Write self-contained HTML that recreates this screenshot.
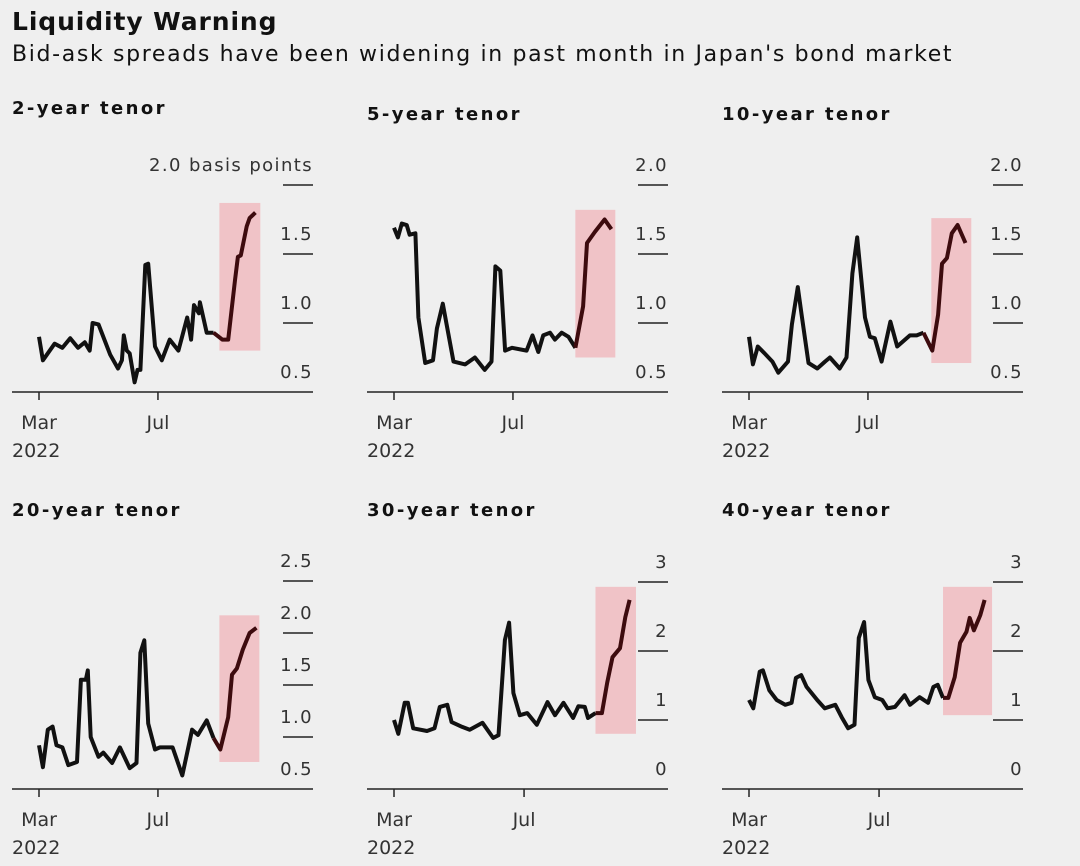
<!DOCTYPE html>
<html><head><meta charset="utf-8"><style>
body{margin:0;background:#efefef;}
svg{display:block;font-family:"DejaVu Sans","Liberation Sans",sans-serif;}
</style></head><body>
<svg id="chart" width="1080" height="866" viewBox="0 0 1080 866">
<rect width="1080" height="866" fill="#efefef"/>
<text x="12" y="30" font-size="25" font-weight="bold" fill="#111" letter-spacing="0.9">Liquidity Warning</text>
<text x="12" y="61" font-size="22" fill="#111" letter-spacing="1.65">Bid-ask spreads have been widening in past month in Japan's bond market</text>
</svg>
<script>
const titles=["2-year tenor","5-year tenor","10-year tenor","20-year tenor","30-year tenor","40-year tenor"];
const days2=[0,4,16,24,32,40,47,52,55,61,73,81,85,87,90,93,98,101,104,109,112,119,126,134,143,152,156,159,164,165,172,179,188,194,198,201,204,207,213,216,222];
const vals2=[0.90,0.73,0.85,0.82,0.89,0.82,0.86,0.80,1.0,0.99,0.77,0.67,0.73,0.91,0.80,0.78,0.57,0.66,0.66,1.42,1.43,0.83,0.73,0.88,0.80,1.04,0.88,1.13,1.07,1.15,0.93,0.93,0.88,0.88,1.12,1.31,1.48,1.49,1.70,1.76,1.80,1.73];
const days5=[0,4,8,13,16,22,25,32,40,44,50,54,61,73,83,93,100,104,109,114,121,136,142,148,153,160,165,172,179,186,194,198,206,216,223];
const vals5=[1.69,1.62,1.72,1.71,1.64,1.65,1.04,0.71,0.73,0.96,1.14,0.99,0.72,0.70,0.75,0.66,0.72,1.41,1.38,0.80,0.82,0.80,0.91,0.79,0.91,0.93,0.88,0.93,0.90,0.82,1.12,1.58,1.66,1.75,1.68];
const days10=[0,4,9,16,24,30,40,44,50,54,61,70,78,83,93,100,106,111,119,124,129,136,145,152,165,172,179,188,194,198,203,208,214,222];
const vals10=[0.90,0.70,0.83,0.78,0.72,0.64,0.72,0.99,1.26,1.06,0.71,0.67,0.72,0.75,0.67,0.75,1.36,1.62,1.04,0.90,0.89,0.72,1.01,0.83,0.91,0.91,0.93,0.80,1.06,1.43,1.47,1.65,1.71,1.58];
const days20=[0,4,9,14,18,24,30,39,43,48,50,53,61,66,75,83,93,100,104,108,112,119,124,137,147,157,163,172,179,186,194,198,203,209,216,223];
const vals20=[0.92,0.71,1.07,1.10,0.92,0.90,0.73,0.76,1.55,1.55,1.64,1.00,0.81,0.85,0.75,0.90,0.70,0.75,1.81,1.93,1.13,0.88,0.90,0.90,0.63,1.07,1.02,1.16,0.99,0.88,1.19,1.60,1.66,1.84,2.00,2.05];
const days30=[0,4,10,13,18,31,38,43,50,54,64,71,83,93,98,104,108,112,118,125,134,144,151,159,168,173,179,182,189,195,200,205,212,217,221];
const vals30=[1.0,0.80,1.25,1.25,0.88,0.84,0.88,1.19,1.22,0.97,0.90,0.86,0.96,0.74,0.78,2.16,2.41,1.39,1.07,1.10,0.93,1.26,1.07,1.25,1.03,1.20,1.19,1.03,1.10,1.10,1.54,1.91,2.04,2.49,2.74];
const days40=[0,4,10,13,19,26,34,40,44,49,54,64,71,81,87,93,99,103,108,112,118,125,130,137,146,151,160,168,173,177,182,187,193,198,204,207,211,217,221];
const vals40=[1.29,1.17,1.70,1.72,1.43,1.29,1.22,1.25,1.61,1.65,1.48,1.29,1.17,1.22,1.04,0.88,0.93,2.19,2.42,1.58,1.33,1.29,1.17,1.19,1.36,1.22,1.33,1.25,1.48,1.51,1.32,1.32,1.62,2.12,2.28,2.48,2.30,2.52,2.74];
const shadeDays=[[185,227],[186,227],[187,228],[185,226],[189,227],[182,228]];
const shadeVals=[[0.80,1.87],[0.75,1.82],[0.71,1.76],[0.76,2.17],[0.80,2.93],[1.07,2.93]];
const tickVals=[[0.5,1.0,1.5,2.0],[0.5,1.0,1.5,2.0],[0.5,1.0,1.5,2.0],[0.5,1.0,1.5,2.0,2.5],[0,1,2,3],[0,1,2,3]];
const tickLabels=[["0.5","1.0","1.5","2.0 basis points"],["0.5","1.0","1.5","2.0"],["0.5","1.0","1.5","2.0"],["0.5","1.0","1.5","2.0","2.5"],["0","1","2","3"],["0","1","2","3"]];
const monthDays=[0,122];
const monthLabels=["Mar","Jul"];
const allDays=[days2,days5,days10,days20,days30,days40];
const allVals=[vals2,vals5,vals10,vals20,vals30,vals40];
// layout (not data)
const panelX=[0,355,710,0,355,710];
const baseY=[392,392,392,789,789,789];
const titleY=[114,120,120,516,516,516];
const yMin=[0.5,0.5,0.5,0.5,0,0];
const pxPerUnit=[138,138,138,104,69,69];
const pxPerDay=[0.975,0.975,0.975,0.975,1.066,1.066];
const svg=document.getElementById('chart');
const NS='http://www.w3.org/2000/svg';
function mk(tag,attrs,parent){const e=document.createElementNS(NS,tag);for(const k in attrs)e.setAttribute(k,attrs[k]);(parent||svg).appendChild(e);return e;}
for(let p=0;p<6;p++){
  const ox=panelX[p],by=baseY[p];
  const xs=d=>ox+39+d*pxPerDay[p];
  const ys=v=>by-(v-yMin[p])*pxPerUnit[p];
  const g=mk('g',{});
  
  
  const t=mk('text',{x:ox+12,y:titleY[p],'font-size':18,'font-weight':'bold',fill:'#111','letter-spacing':'2.4'},g);
  t.textContent=titles[p];
  
  
  const sd=shadeDays[p],sv=shadeVals[p];
  const r=mk('rect',{x:xs(sd[0]),y:ys(sv[1]),width:xs(sd[1])-xs(sd[0]),height:ys(sv[0])-ys(sv[1]),fill:'#f0c3c7'},g);
  
  
  tickVals[p].forEach((v,i)=>{
    const y=ys(v);
    if(i>0){const l=mk('line',{x1:ox+283,x2:ox+313,y1:y,y2:y,stroke:'#222','stroke-width':1.5},g);
      
      }
    const tx=mk('text',{x:ox+313,y:y-14,'text-anchor':'end','font-size':18,fill:'#333','letter-spacing':'1.4'},g);
    tx.textContent=tickLabels[p][i];
    
    
  });
  const ax=mk('line',{x1:ox+12,x2:ox+313,y1:by,y2:by,stroke:'#222','stroke-width':1.5},g);
  
  
  monthDays.forEach((d,i)=>{
    const x=xs(d);
    const tk=mk('line',{x1:x,x2:x,y1:by,y2:by+8,stroke:'#222','stroke-width':1.5},g);
    
    
    const tl=mk('text',{x:x,y:by+37,'text-anchor':'middle','font-size':19,fill:'#333'},g);
    tl.textContent=monthLabels[i];
    
    
  });
  const yr=mk('text',{x:ox+12,y:by+65,'font-size':19,fill:'#333'},g);
  yr.textContent='2022';
  
  
  const D=allDays[p],V=allVals[p];
  let a=[],b=[];
  D.forEach((d,i)=>{const pt=xs(d).toFixed(1)+','+ys(V[i]).toFixed(1);if(d<=sd[0])a.push(pt);if(d>=sd[0])b.push(pt);});
  if(b.length&&a.length&&D.indexOf(sd[0])<0){b.unshift(a[a.length-1]);}
  const l1=mk('polyline',{points:a.join(' '),fill:'none',stroke:'#111','stroke-width':4,'stroke-linejoin':'round'},g);
  
  
  const l2=mk('polyline',{points:b.join(' '),fill:'none',stroke:'#3d0b0e','stroke-width':4,'stroke-linejoin':'round'},g);
  
  
}
</script>
</body></html>
